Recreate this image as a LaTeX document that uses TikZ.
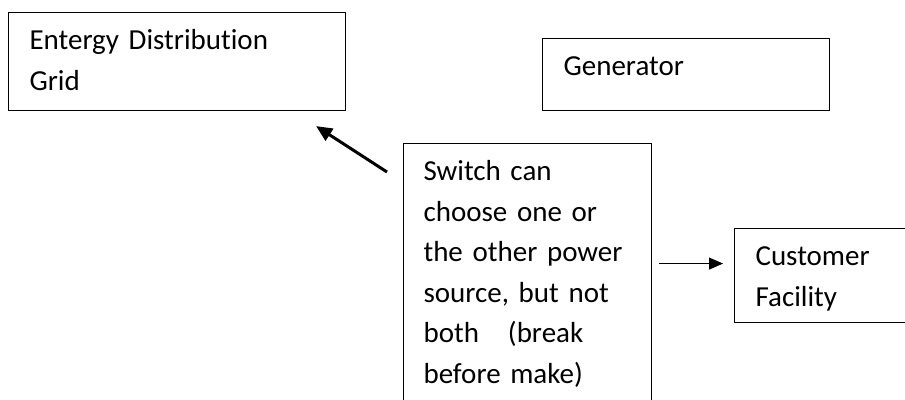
\documentclass[tikz,border=0pt]{standalone}
\usepackage{fontspec}
\setmainfont{Carlito}[Ligatures=CommonOff]
\usetikzlibrary{arrows.meta}
\DeclareRobustCommand{\boxfont}{\fontsize{29}{40.6}\selectfont\spaceskip=5.2pt\relax}

\begin{document}
\begin{tikzpicture}[x=1pt, y=-1pt,
  box/.style={draw, line width=1.1pt, rectangle, anchor=north west, align=left,
    inner xsep=21pt, inner ysep=0pt, text height=37pt, font=\boxfont}]
  \useasboundingbox (0,0) rectangle (905,399);
  \clip (0,0) rectangle (905,399);

  \node [box, text width=295pt, text depth=61pt] (grid) at (8,12) {Entergy Distribution\\Grid};
  \node [box, text width=245pt, text depth=35pt] (gen) at (542,38) {Generator};
  \node [box, inner xsep=20pt, text width=208pt, text depth=260pt] (switch) at (403,143)
    {Switch can\\choose one or\\the other power\\source, but not\\both~~~(break\\before make)};
  \node [box, text width=158pt, text depth=57pt] (fac) at (734,228) {Customer\\Facility};

  \coordinate (gridtip) at ([shift={(-30,15)}]grid.south east);
  \coordinate (gridtail) at ([shift={(-16,29)}]switch.north west);
  \draw [line width=3pt, -{Triangle[length=16pt,width=14pt]}] (gridtail) -- (gridtip);

  \coordinate (factip) at ([yshift=12pt]fac.west);
  \draw [line width=1pt, -{Triangle[length=14pt,width=12pt]}, shorten <=7pt, shorten >=11pt] (switch.east |- factip) -- (factip);
\end{tikzpicture}
\end{document}
